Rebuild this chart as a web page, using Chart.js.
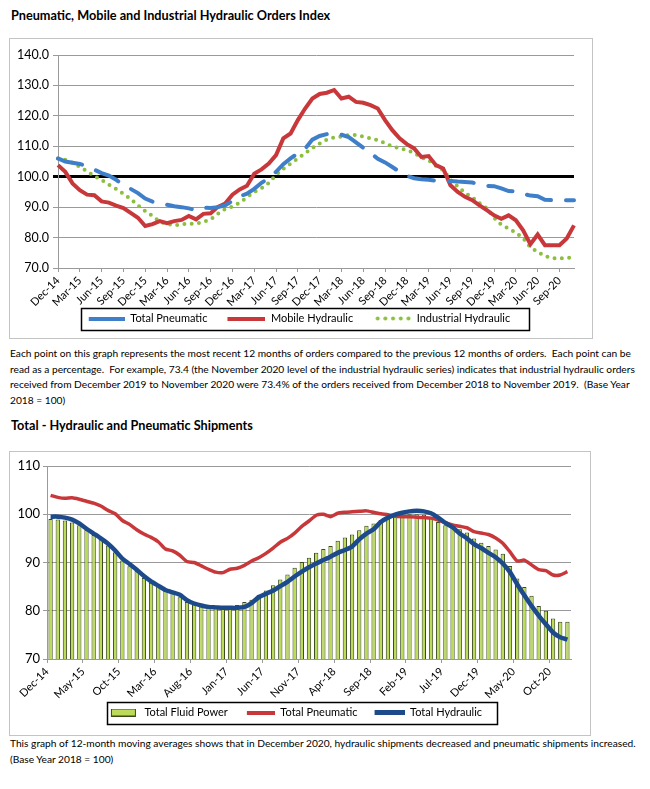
<!DOCTYPE html>
<html>
<head>
<meta charset="utf-8">
<script src="https://cdn.jsdelivr.net/npm/chart.js@4.4.1/dist/chart.umd.min.js"></script>
<style>
  body { margin: 0; background: #fff; font-family: Lato, 'Liberation Sans', sans-serif; color: #000; }
  .page { position: relative; width: 650px; height: 789px; overflow: hidden; }
  .title { position: absolute; left: 11px; font-weight: bold; font-size: 12.7px; line-height: 16px; white-space: nowrap; }
  .frame { position: absolute; left: 10px; outline: 1px solid #c4c4c4; }
  .note { position: absolute; left: 10px; font-size: 10.2px; line-height: 15.5px; white-space: pre; }
</style>
</head>
<body>
<div class="page">
  <div class="title" style="top:7px">Pneumatic, Mobile and Industrial Hydraulic Orders Index</div>
  <div class="frame" style="top:39px;width:582px;height:299px"><canvas id="ordersChart"></canvas></div>
  <div class="note" style="top:346px">Each point on this graph represents the most recent 12 months of orders compared to the previous 12 months of orders.  Each point can be
read as a percentage.  For example, 73.4 (the November 2020 level of the industrial hydraulic series) indicates that industrial hydraulic orders
received from December 2019 to November 2020 were 73.4% of the orders received from December 2018 to November 2019.  (Base Year
2018 = 100)</div>
  <div class="title" style="top:417px">Total - Hydraulic and Pneumatic Shipments</div>
  <div class="frame" style="top:452px;width:580px;height:283px"><canvas id="shipChart"></canvas></div>
  <div class="note" style="top:736px">This graph of 12-month moving averages shows that in December 2020, hydraulic shipments decreased and pneumatic shipments increased.
(Base Year 2018 = 100)</div>
</div>
<script>
// Months shared by both charts (orders end Nov-20, shipments end Dec-20)
const months = [
  'Dec-14','Jan-15','Feb-15','Mar-15','Apr-15','May-15','Jun-15','Jul-15','Aug-15','Sep-15','Oct-15','Nov-15',
  'Dec-15','Jan-16','Feb-16','Mar-16','Apr-16','May-16','Jun-16','Jul-16','Aug-16','Sep-16','Oct-16','Nov-16',
  'Dec-16','Jan-17','Feb-17','Mar-17','Apr-17','May-17','Jun-17','Jul-17','Aug-17','Sep-17','Oct-17','Nov-17',
  'Dec-17','Jan-18','Feb-18','Mar-18','Apr-18','May-18','Jun-18','Jul-18','Aug-18','Sep-18','Oct-18','Nov-18',
  'Dec-18','Jan-19','Feb-19','Mar-19','Apr-19','May-19','Jun-19','Jul-19','Aug-19','Sep-19','Oct-19','Nov-19',
  'Dec-19','Jan-20','Feb-20','Mar-20','Apr-20','May-20','Jun-20','Jul-20','Aug-20','Sep-20','Oct-20','Nov-20',
  'Dec-20'
];
const orderMonths = months.slice(0, 72);

// Orders index
const pneumaticOrders = [
  106.0,105.0,104.6,104.2,103.4,102.3,101.2,100.4,99.0,97.3,96.0,94.6,
  92.8,91.8,91.4,90.8,90.3,90.0,89.6,89.0,89.8,89.7,90.0,90.6,
  92.0,93.6,94.4,96.0,98.0,99.5,101.6,104.1,106.0,107.7,109.2,112.2,
  113.4,114.0,114.3,113.8,113.0,111.3,109.5,107.8,105.9,104.7,103.2,101.6,
  100.3,99.5,99.2,99.0,98.7,98.6,98.6,98.4,98.3,98.1,97.4,97.0,
  96.9,96.2,95.3,95.2,94.4,93.8,93.6,92.4,92.3,92.3,92.3,92.3
];
const mobileOrders = [
  103.8,101.6,97.8,95.6,94.1,93.9,91.9,91.5,90.5,89.7,88.1,86.5,
  83.8,84.4,85.4,84.7,85.4,85.8,87.1,86.0,87.8,88.0,90.1,91.2,
  94.1,95.8,97.0,101.0,102.4,104.3,107.1,112.6,114.2,118.6,122.4,125.7,
  127.2,127.6,128.5,125.7,126.3,124.6,124.3,123.5,122.4,118.6,115.3,112.6,
  110.7,109.3,106.5,106.8,103.8,102.7,97.2,95.0,93.4,92.3,90.6,89.0,
  87.3,86.2,87.3,85.7,82.4,77.8,81.0,77.5,77.5,77.5,79.7,84.0
];
const industrialOrders = [
  106.0,105.6,104.6,103.2,101.8,100.2,98.9,97.4,96.0,94.4,92.7,90.6,
  88.7,87.1,85.2,84.5,84.0,84.4,84.5,84.6,85.1,86.0,87.8,89.4,
  90.2,91.5,93.2,95.0,96.2,97.9,100.6,102.6,104.3,106.0,107.7,109.4,
  110.9,112.2,112.9,113.2,113.7,113.7,113.2,112.6,112.0,111.0,110.0,109.3,
  108.8,107.8,106.3,105.4,103.6,102.2,99.0,96.8,94.7,93.2,91.3,89.6,
  86.5,84.2,83.0,81.6,79.8,76.8,75.3,73.9,73.2,73.1,73.3,73.4
];
const ordersYTicks = [70, 80, 90, 100, 110, 120, 130, 140];
const ordersXLabels = ['Dec-14','Mar-15','Jun-15','Sep-15','Dec-15','Mar-16','Jun-16','Sep-16','Dec-16','Mar-17','Jun-17','Sep-17',
  'Dec-17','Mar-18','Jun-18','Sep-18','Dec-18','Mar-19','Jun-19','Sep-19','Dec-19','Mar-20','Jun-20','Sep-20'];

// Shipments (12-month moving averages)
const fluidPower = [
  99.0,98.9,98.7,98.3,97.7,96.8,95.7,94.8,93.5,92.1,90.4,89.2,
  88.3,86.8,85.8,85.1,84.4,83.9,82.8,81.8,81.3,81.0,80.8,80.6,
  80.6,81.0,81.2,81.8,82.3,83.3,84.2,85.3,86.5,87.5,88.9,90.1,
  91.0,92.0,92.8,93.4,94.5,95.2,95.8,96.7,97.6,98.1,98.8,99.3,
  99.6,99.8,100.0,100.0,99.9,99.3,98.4,97.7,97.3,96.9,96.2,95.0,
  94.1,93.4,92.7,91.8,89.3,86.7,84.9,83.1,81.0,80.0,78.4,77.7,
  77.7
];
const pneumaticShip = [
  103.9,103.5,103.3,103.4,103.1,102.7,102.3,101.7,100.8,100.1,98.7,97.9,
  96.8,95.9,95.2,94.3,92.8,92.4,91.5,90.2,90.0,89.3,88.6,88.0,
  87.9,88.6,88.8,89.4,90.3,91.0,91.9,93.0,94.2,95.0,96.1,97.5,
  98.6,99.8,100.0,99.5,100.2,100.4,100.5,100.6,100.7,100.4,100.1,99.9,
  99.6,99.5,99.5,99.4,99.3,99.2,98.8,98.2,97.8,97.5,97.2,96.4,
  96.1,95.8,95.1,94.0,92.2,90.3,90.5,89.5,88.5,88.3,87.4,87.4,
  88.1
];
const hydraulicShip = [
  99.5,99.5,99.3,98.9,98.1,97.0,96.0,95.0,93.9,92.5,90.8,89.7,
  88.5,87.2,86.1,85.2,84.3,83.8,83.3,82.2,81.5,81.1,80.8,80.7,
  80.6,80.6,80.6,80.8,81.6,82.8,83.5,84.2,85.1,86.0,87.1,88.1,
  89.0,89.8,90.5,91.2,92.0,92.6,93.3,94.8,96.0,96.9,98.4,99.3,
  99.9,100.3,100.6,100.7,100.6,100.2,99.3,98.2,97.3,96.0,95.0,93.8,
  93.0,92.0,91.1,89.8,88.0,85.5,83.2,81.0,79.0,77.2,75.5,74.5,
  74.0
];
const shipYTicks = [70, 80, 90, 100, 110];
const shipXLabels = ['Dec-14','May-15','Oct-15','Mar-16','Aug-16','Jan-17','Jun-17','Nov-17','Apr-18','Sep-18','Feb-19','Jul-19',
  'Dec-19','May-20','Oct-20'];

const BLUE = '#3F7FCA', RED = '#C8383A', GREEN = '#8CBF3F', NAVY = '#1C4A8A';
const BAR_FILL = '#BCDB5A', BAR_EDGE = '#3B4A1C', GRID = '#9a9a9a';

Chart.defaults.font.family = 'Lato, "Liberation Sans", sans-serif';
Chart.defaults.color = '#000';

// legend samples: a canvas as wide as the legend box, sample drawn at its right end
// (the empty left part gives the gap between legend items)
function sample(w, h, draw) {
  const c = document.createElement('canvas');
  c.width = w; c.height = h;
  draw(c.getContext('2d'));
  return c;
}
function lineSample(w, lead, h, color) {
  return sample(w, h, g => { g.fillStyle = color; g.fillRect(lead, 0, w - lead, h); });
}
function dotSample(w, lead, color) {
  return sample(w, 5, g => {
    g.fillStyle = color;
    for (let i = 0; i < 5; i++) { g.beginPath(); g.arc(lead + 2.5 + i * 7.7, 2.5, 2, 0, Math.PI * 2); g.fill(); }
  });
}
function barSample(w, lead) {
  return sample(w, 8, g => {
    g.fillStyle = BAR_FILL; g.fillRect(lead, 0, 25, 8);
    g.strokeStyle = BAR_EDGE; g.lineWidth = 1; g.strokeRect(lead + 0.5, 0.5, 24, 7);
  });
}

// box drawn around the legend items
const legendFrame = {
  id: 'legendFrame',
  afterDraw(chart, args, opts) {
    const boxes = chart.legend && chart.legend.legendHitBoxes;
    if (!boxes || !boxes.length) return;
    const left = Math.min(...boxes.map(b => b.left)) + opts.padLeft;
    const right = Math.max(...boxes.map(b => b.left + b.width)) + opts.padRight;
    const top = boxes[0].top - opts.padY;
    const bottom = boxes[0].top + boxes[0].height + opts.padY;
    const ctx = chart.ctx;
    ctx.save();
    ctx.strokeStyle = '#000';
    ctx.lineWidth = 1.5;
    ctx.strokeRect(Math.round(left) + 0.5, Math.round(top) + 0.5, Math.round(right - left), Math.round(bottom - top));
    ctx.restore();
  }
};

function legendLabels(samples, width) {
  return {
    usePointStyle: true,
    pointStyleWidth: width,
    padding: 7,
    font: { size: 11 },
    sort: (a, b) => a.datasetIndex - b.datasetIndex,
    generateLabels(chart) {
      return Chart.defaults.plugins.legend.labels.generateLabels(chart).map(item => {
        item.pointStyle = samples[item.datasetIndex];
        return item;
      });
    }
  };
}

function fixY(width) {
  return scale => { scale.width = width; scale.paddingTop = 0; scale.paddingBottom = 0; };
}
function fixX(height) {
  return scale => { scale.height = height; scale.paddingLeft = 0; scale.paddingRight = 0; };
}

// Orders index chart
new Chart(document.getElementById('ordersChart'), {
  type: 'line',
  data: {
    labels: orderMonths,
    datasets: [
      { label: 'Total Pneumatic', data: pneumaticOrders, borderColor: BLUE, backgroundColor: BLUE,
        borderWidth: 4, borderDash: [25, 15], borderCapStyle: 'round', pointRadius: 0, tension: 0 },
      { label: 'Mobile Hydraulic', data: mobileOrders, borderColor: RED, backgroundColor: RED,
        borderWidth: 4, pointRadius: 0, tension: 0 },
      { label: 'Industrial Hydraulic', data: industrialOrders, borderColor: GREEN, backgroundColor: GREEN,
        borderWidth: 4, borderDash: [0, 7.3], borderCapStyle: 'round', pointRadius: 0, tension: 0 }
    ]
  },
  options: {
    responsive: true,
    maintainAspectRatio: false,
    animation: false,
    layout: { padding: { left: 0, right: 18, top: 16, bottom: 4 } },
    scales: {
      x: {
        afterFit: fixX(38),
        grid: {
          drawOnChartArea: false, tickLength: 4,
          color: ctx => (ctx.tick && ctx.tick.label !== '') ? GRID : 'rgba(0,0,0,0)'
        },
        border: { color: GRID },
        ticks: {
          autoSkip: false, maxRotation: 45, minRotation: 45, padding: 2, font: { size: 11 },
          callback: function(value) {
            const label = this.getLabelForValue(value);
            return ordersXLabels.includes(label) ? label : '';
          }
        }
      },
      y: {
        min: 70, max: 140,
        afterFit: fixY(48),
        afterBuildTicks: scale => { scale.ticks = ordersYTicks.map(v => ({ value: v })); },
        grid: {
          tickLength: 5,
          color: ctx => (ctx.tick && ctx.tick.value === 100) ? '#000' : GRID,
          lineWidth: ctx => (ctx.tick && ctx.tick.value === 100) ? 3 : 1
        },
        border: { color: GRID },
        ticks: { padding: 4, font: { size: 12.5 }, callback: v => Number(v).toFixed(1) }
      }
    },
    plugins: {
      legend: {
        position: 'bottom',
        labels: legendLabels([lineSample(51, 15, 4, BLUE), lineSample(51, 13, 4, RED), dotSample(51, 15, GREEN)], 51)
      },
      legendFrame: { padLeft: 7, padRight: 18, padY: 5.5 },
      tooltip: { enabled: false }
    }
  },
  plugins: [legendFrame]
});

// Shipments chart
new Chart(document.getElementById('shipChart'), {
  type: 'bar',
  data: {
    labels: months,
    datasets: [
      { type: 'bar', label: 'Total Fluid Power', data: fluidPower, backgroundColor: BAR_FILL, borderColor: BAR_EDGE,
        borderWidth: 1, barPercentage: 0.6, categoryPercentage: 1, order: 3 },
      { type: 'line', label: 'Total Pneumatic', data: pneumaticShip, borderColor: RED, backgroundColor: RED,
        borderWidth: 3.5, pointRadius: 0, tension: 0.2, order: 2 },
      { type: 'line', label: 'Total Hydraulic', data: hydraulicShip, borderColor: NAVY, backgroundColor: NAVY,
        borderWidth: 4.5, pointRadius: 0, tension: 0.2, order: 1 }
    ]
  },
  options: {
    responsive: true,
    maintainAspectRatio: false,
    animation: false,
    layout: { padding: { left: 0, right: 19, top: 14, bottom: 7 } },
    scales: {
      x: {
        afterFit: fixX(41),
        grid: {
          drawOnChartArea: false, tickLength: 4, offset: true,
          color: ctx => (ctx.tick && ctx.tick.label !== '') ? GRID : 'rgba(0,0,0,0)'
        },
        border: { color: GRID },
        ticks: {
          autoSkip: false, maxRotation: 45, minRotation: 45, padding: 2, labelOffset: -3.6, font: { size: 11 },
          callback: function(value) {
            const label = this.getLabelForValue(value);
            return shipXLabels.includes(label) ? label : '';
          }
        }
      },
      y: {
        min: 70, max: 110,
        afterFit: fixY(37),
        afterBuildTicks: scale => { scale.ticks = shipYTicks.map(v => ({ value: v })); },
        grid: { tickLength: 4, color: GRID },
        border: { color: GRID },
        ticks: { padding: 3, font: { size: 13 } }
      }
    },
    plugins: {
      legend: {
        position: 'bottom',
        labels: legendLabels([barSample(40, 12), lineSample(40, 12, 4, RED), lineSample(40, 10, 5, NAVY)], 40)
      },
      legendFrame: { padLeft: 8, padRight: 15, padY: 5.5 },
      tooltip: { enabled: false }
    }
  },
  plugins: [legendFrame]
});
</script>
</body>
</html>
